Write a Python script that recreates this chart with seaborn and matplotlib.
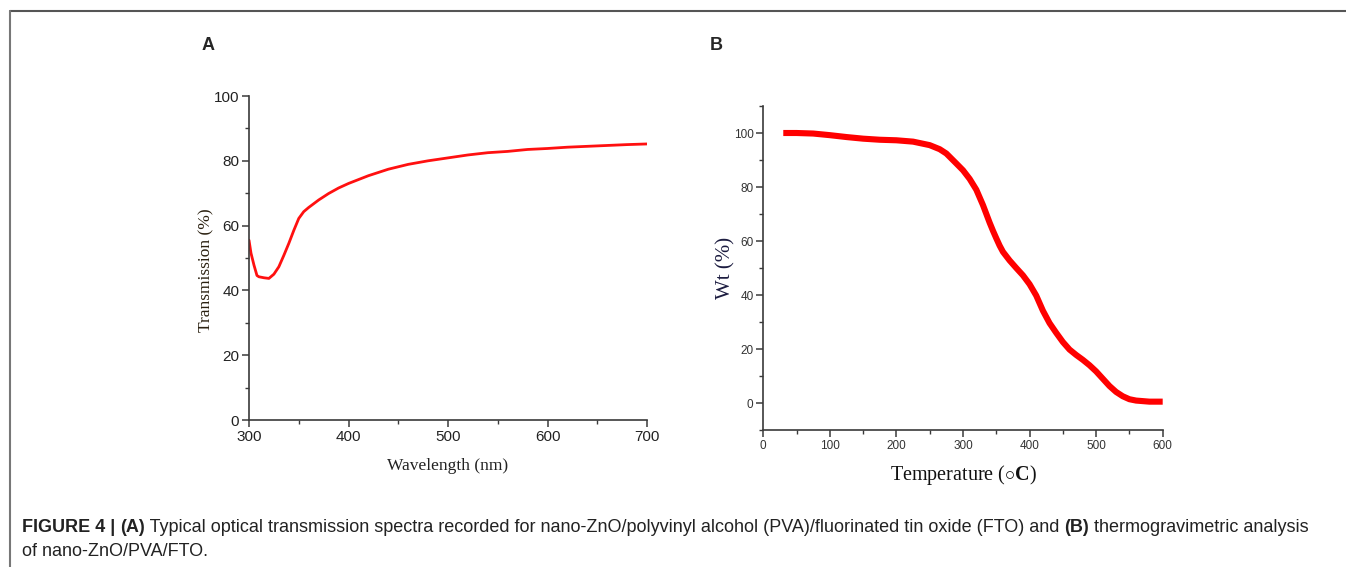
import numpy as np
import pandas as pd
import matplotlib
matplotlib.use("Agg")
import matplotlib.pyplot as plt
from matplotlib.lines import Line2D
from matplotlib.ticker import MultipleLocator
import seaborn as sns

# ---------------- data ----------------
wavelength_nm = [300, 302, 305, 308, 310, 315, 320, 325, 330, 335, 340, 345, 350, 355,
                 360, 370, 380, 390, 400, 420, 440, 460, 480, 500, 520, 540, 560,
                 580, 600, 620, 650, 680, 700]
transmission_pct = [55.5, 51.5, 47.8, 44.6, 44.2, 43.9, 43.7, 45.0, 47.3, 50.8, 54.5, 58.5,
                    62.2, 64.3, 65.6, 67.9, 69.9, 71.6, 73.0, 75.4, 77.4, 78.9, 80.0, 80.9,
                    81.8, 82.5, 82.9, 83.5, 83.8, 84.2, 84.6, 85.0, 85.2]

temperature_c = [30, 50, 75, 100, 125, 150, 175, 200, 225, 250, 265, 275, 290, 300, 310,
                 320, 330, 340, 345, 350, 355, 360, 370, 380, 390, 400, 410, 420, 430,
                 440, 450, 460, 470, 480, 490, 500, 510, 520, 530, 540, 550, 560, 580, 600]
weight_pct = [100, 100, 99.8, 99.2, 98.5, 97.9, 97.5, 97.3, 96.8, 95.5, 94.0, 92.4, 88.7,
              86.2, 83.0, 79.0, 73.3, 66.8, 63.8, 61.0, 58.3, 56.0, 52.8, 50.0, 47.3, 44.0,
              39.8, 34.2, 29.6, 26.0, 22.6, 19.8, 17.8, 16.0, 14.0, 11.7, 9.0, 6.3, 4.1,
              2.5, 1.4, 0.9, 0.5, 0.5]

caption_line1 = [("FIGURE 4 | ", "bold"), ("(A)", "bold"),
                 (" Typical optical transmission spectra recorded for nano-ZnO/polyvinyl alcohol (PVA)/fluorinated tin oxide (FTO) and ", "normal"),
                 ("(B)", "bold"), (" thermogravimetric analysis", "normal")]
caption_line2 = "of nano-ZnO/PVA/FTO."

# ---------------- style ----------------
sns.set_style("ticks")
plt.rcParams["font.family"] = ["Liberation Sans", "DejaVu Sans"]
plt.rcParams["mathtext.fontset"] = "custom"
plt.rcParams["mathtext.rm"] = "Liberation Serif"
plt.rcParams["mathtext.bf"] = "Liberation Serif:bold"

W, H = 1346, 567
fig = plt.figure(figsize=(W / 100, H / 100), dpi=100)

spine_col = "#3a3a3a"
serif = ["Liberation Serif", "DejaVu Serif"]

def style_axes(ax, tick_size, tick_col):
    for s in ["top", "right"]:
        ax.spines[s].set_visible(False)
    for s in ["left", "bottom"]:
        ax.spines[s].set_color(spine_col)
        ax.spines[s].set_linewidth(1.2)
    ax.tick_params(which="major", direction="out", length=5, width=1.1, color=spine_col,
                   labelsize=tick_size, labelcolor=tick_col, pad=2)
    ax.tick_params(which="minor", direction="out", length=3, width=1.0, color=spine_col)

# ---------------- panel A ----------------
axA = fig.add_axes([249 / W, 1 - 420 / H, (647 - 249) / W, (420 - 96) / H])
dfA = pd.DataFrame({"Wavelength": wavelength_nm, "Transmission": transmission_pct})
sns.lineplot(data=dfA, x="Wavelength", y="Transmission", ax=axA, color="#ff1010",
             linewidth=2.0)
axA.set_xlim(300, 700)
axA.set_ylim(0, 100)
axA.xaxis.set_major_locator(MultipleLocator(100))
axA.xaxis.set_minor_locator(MultipleLocator(50))
axA.yaxis.set_major_locator(MultipleLocator(20))
axA.yaxis.set_minor_locator(MultipleLocator(10))
style_axes(axA, 11, "#222222")
axA.set_xlabel("Wavelength (nm)", family=serif, fontsize=12.5, color="#222222", labelpad=10)
axA.set_ylabel("Transmission (%)", family=serif, fontsize=12.5, color="#2a2010")
axA.yaxis.set_label_coords(-0.088, 0.463)

# ---------------- panel B ----------------
axB = fig.add_axes([763.3 / W, 1 - 430 / H, (1162.7 - 763.3) / W, (430 - 106) / H])
dfB = pd.DataFrame({"Temperature": temperature_c, "Weight": weight_pct})
sns.lineplot(data=dfB, x="Temperature", y="Weight", ax=axB, color="#ff0000",
             linewidth=4.4, solid_capstyle="butt", solid_joinstyle="round")
axB.set_xlim(0, 600)
axB.set_ylim(-10, 110)
axB.xaxis.set_major_locator(MultipleLocator(100))
axB.xaxis.set_minor_locator(MultipleLocator(50))
axB.set_yticks([0, 20, 40, 60, 80, 100])
axB.yaxis.set_minor_locator(MultipleLocator(10))
style_axes(axB, 8.5, "#333333")
axB.set_xlabel(r"Temperature ($\circ\mathbf{C}$)", family=serif, fontsize=14.5,
               color="#111111", labelpad=8)
axB.set_ylabel("Wt (%)", family=serif, fontsize=15, color="#1c1c40")
axB.yaxis.set_label_coords(-0.07, 0.5)

# ---------------- panel letters ----------------
fig.text(208 / W, 1 - 45 / H, "A", fontsize=13, fontweight="bold", ha="center", va="center")
fig.text(716 / W, 1 - 45 / H, "B", fontsize=13, fontweight="bold", ha="center", va="center")

# ---------------- figure border ----------------
fig.add_artist(Line2D([9.5 / W, 1], [1 - 10.5 / H, 1 - 10.5 / H], transform=fig.transFigure,
                      color="#555555", linewidth=1.5))
fig.add_artist(Line2D([9.5 / W, 9.5 / W], [0, 1 - 10.5 / H], transform=fig.transFigure,
                      color="#777777", linewidth=1.5))

# ---------------- caption ----------------
renderer = fig.canvas.get_renderer()
x = 22 / W
y1 = 1 - 527 / H
cap_size = 12.95
for txt, wt in caption_line1:
    t = fig.text(x, y1, txt, fontsize=cap_size, fontweight=wt, color="#222222",
                 ha="left", va="center")
    bb = t.get_window_extent(renderer=renderer)
    x += bb.width / W
fig.text(22 / W, 1 - 551 / H, caption_line2, fontsize=cap_size, color="#222222",
         ha="left", va="center")

fig.savefig("out.png", dpi=100)
